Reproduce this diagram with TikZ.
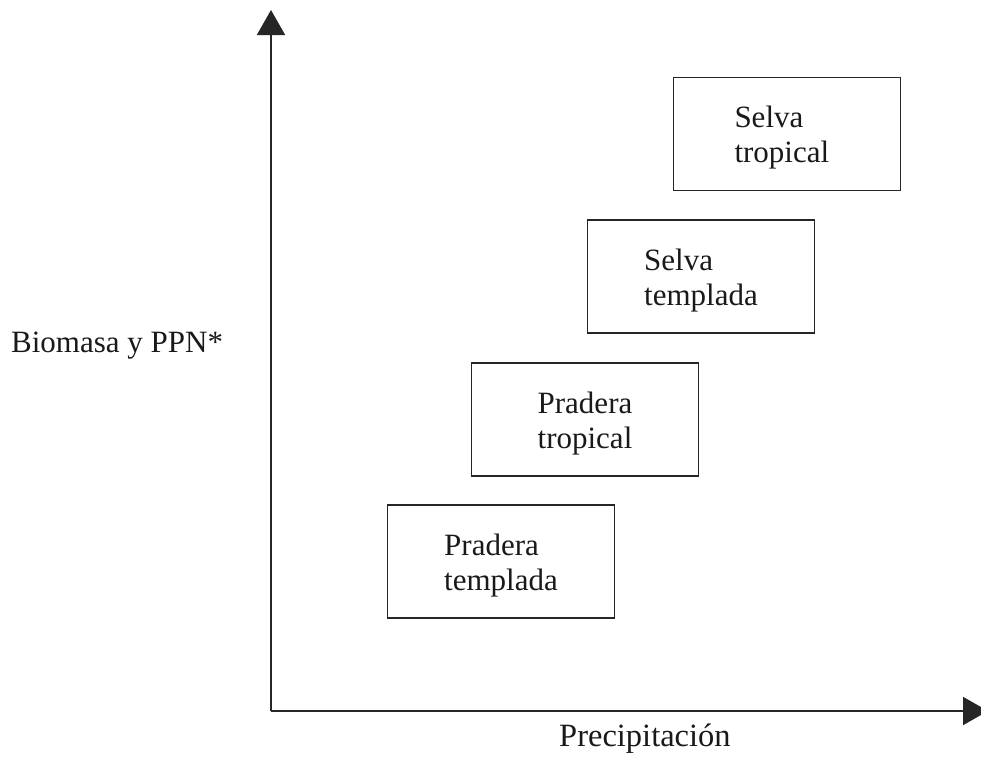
\documentclass[tikz,border=0pt]{standalone}
\usepackage{fontspec}
\setmainfont{Liberation Serif}
\usetikzlibrary{arrows.meta}
\begin{document}
\begin{tikzpicture}[x=1pt,y=-1pt,
  axis/.style={line width=1.8pt,draw=black!85,-{Triangle[width=28pt,length=25pt]}},
  biome/.style={draw=black!85,line width=1.6pt,minimum width=227pt,minimum height=113pt,inner sep=0pt},
  btext/.style={align=left,inner sep=0pt,font=\fontsize{31}{35}\selectfont,text=black!90},
  lbl/.style={font=\fontsize{31}{35}\selectfont,text=black!90,inner sep=0pt}]
\useasboundingbox (0,0) rectangle (981,756);
\coordinate (O) at (271,711);
\coordinate (Ytip) at (271,10);
\coordinate (Xtip) at (988,711);
\draw[axis] (O) -- (Ytip);
\draw[axis] (O) -- (Xtip);
\node[biome] (pt) at (501,561.5) {};
\node[biome] (ptr) at (585,419.5) {};
\node[biome] (st) at (701,276.5) {};
\node[biome] (str) at (787,134) {};
\node[btext] (ptt) at ([yshift=-4pt]pt.center) {Pradera\\templada};
\node[btext] (ptrt) at ([yshift=-4pt]ptr.center) {Pradera\\tropical};
\node[btext] (stt) at ([yshift=-4pt]st.center) {Selva\\templada};
\node[btext,text width=105pt] (strt) at ([yshift=-4pt]str.center) {Selva\\tropical};
\node[lbl,anchor=base west] (ylab) at (11,352) {Biomasa y PPN*};
\node[lbl,anchor=base west,font=\fontsize{32.5}{35}\selectfont] (xlab) at (559,746) {Precipitación};
\end{tikzpicture}
\end{document}
